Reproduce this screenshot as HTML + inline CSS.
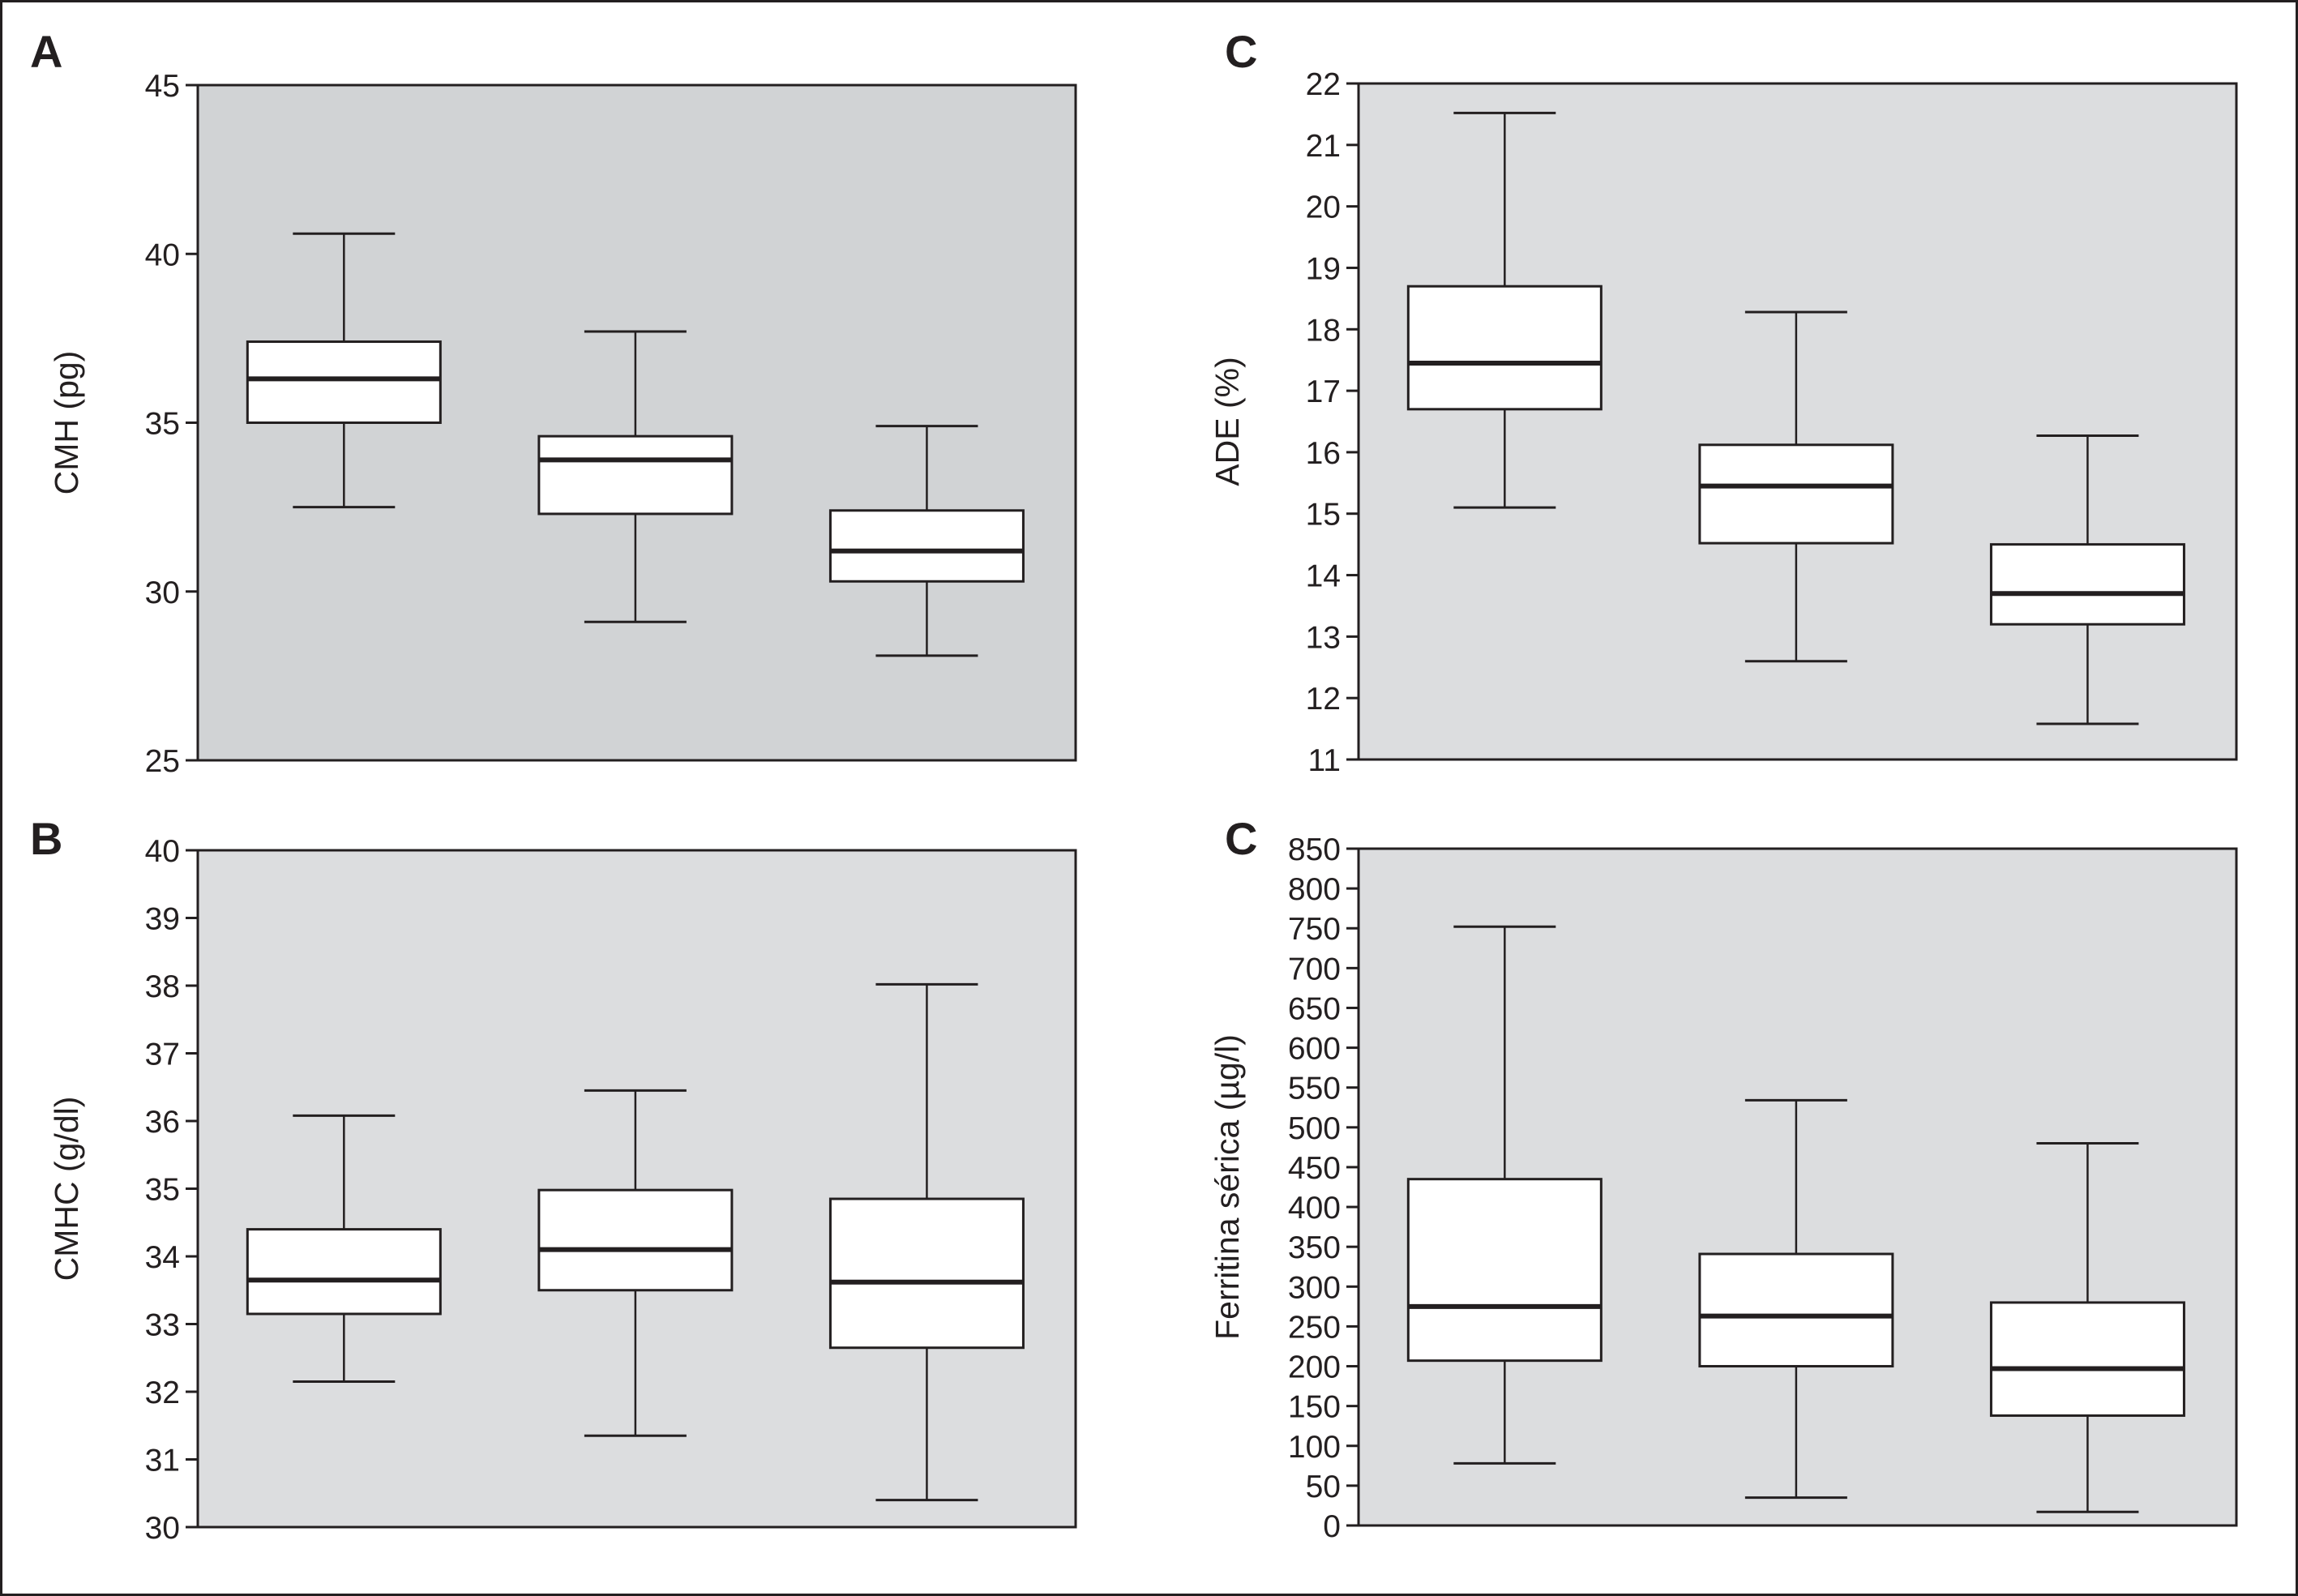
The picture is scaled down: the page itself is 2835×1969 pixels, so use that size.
<!DOCTYPE html>
<html><head><meta charset="utf-8"><style>
html,body{margin:0;padding:0;background:#fff}
svg{display:block}
text{font-family:"Liberation Sans",sans-serif;fill:#231f20}
</style></head><body>
<svg id="fig" width="2835" height="1969" viewBox="0 0 2835 1969">
<rect x="1.5" y="1.5" width="2832" height="1966" fill="#fff" stroke="#231f20" stroke-width="3"/>
</svg>
<script>
const panelALow=[32.5,29.1,28.1], panelAQ1=[35.0,32.3,30.3], panelAMed=[36.3,33.9,31.2], panelAQ3=[37.4,34.6,32.4], panelAHigh=[40.6,37.7,34.9];
const panelATicks=[25,30,35,40,45];
const panelBLow=[32.15,31.35,30.4], panelBQ1=[33.15,33.5,32.65], panelBMed=[33.65,34.1,33.62], panelBQ3=[34.4,34.98,34.85], panelBHigh=[36.08,36.45,38.02];
const panelBTicks=[30,31,32,33,34,35,36,37,38,39,40];
const panelCLow=[15.1,12.6,11.58], panelCQ1=[16.7,14.52,13.2], panelCMed=[17.45,15.45,13.7], panelCQ3=[18.7,16.12,14.5], panelCHigh=[21.52,18.28,16.27];
const panelCTicks=[11,12,13,14,15,16,17,18,19,20,21,22];
const panelDLow=[78,35,17], panelDQ1=[207,200,138], panelDMed=[275,263,197], panelDQ3=[435,341,280], panelDHigh=[752,534,480];
const panelDTicks=[0,50,100,150,200,250,300,350,400,450,500,550,600,650,700,750,800,850];

const NS='http://www.w3.org/2000/svg', svg=document.getElementById('fig');
function mk(tag,attrs,parent){const e=document.createElementNS(NS,tag);for(const k in attrs)e.setAttribute(k,attrs[k]);(parent||svg).appendChild(e);return e;}

function panel(id,x0,y0,x1,y1,bg,ticks,low,q1,med,q3,high,title,letter,lx,ly){
  const g=mk('g',{});
  
  
  const mn=ticks[0],mx=ticks[ticks.length-1];
  const y=v=>y1-(v-mn)/(mx-mn)*(y1-y0);
  const w=x1-x0;
  const xc=i=>x0+w*(0.1665+i*0.3320);
  const bg_=mk('rect',{x:x0,y:y0,width:w,height:y1-y0,fill:bg,stroke:'#231f20','stroke-width':3},g);
  
  
  ticks.forEach(t=>{
    const tk=mk('line',{x1:x0-15,x2:x0,y1:y(t),y2:y(t),stroke:'#231f20','stroke-width':3},g);
    
    
    const tl=mk('text',{x:x0-22,y:y(t)+14,'text-anchor':'end','font-size':39},g);
    tl.textContent=t;
    
    
  });
  const hb=119,hc=63;
  for(let i=0;i<low.length;i++){
    const c=xc(i);
    const bx=mk('g',{},g);
    
    
    mk('line',{x1:c,x2:c,y1:y(high[i]),y2:y(low[i]),stroke:'#231f20','stroke-width':2.5},bx);
    mk('line',{x1:c-hc,x2:c+hc,y1:y(high[i]),y2:y(high[i]),stroke:'#231f20','stroke-width':3},bx);
    mk('line',{x1:c-hc,x2:c+hc,y1:y(low[i]),y2:y(low[i]),stroke:'#231f20','stroke-width':3},bx);
    mk('rect',{x:c-hb,y:y(q3[i]),width:2*hb,height:y(q1[i])-y(q3[i]),fill:'#fff',stroke:'#231f20','stroke-width':3},bx);
    mk('line',{x1:c-hb,x2:c+hb,y1:y(med[i]),y2:y(med[i]),stroke:'#231f20','stroke-width':6},bx);
  }
  const ty=(y0+y1)/2, tx=x0-148;
  const tt=mk('text',{x:tx,y:ty,'text-anchor':'middle','font-size':41,transform:`rotate(-90 ${tx} ${ty})`},g);
  tt.textContent=title;
  
  
  const pl=mk('text',{x:lx,y:ly,'font-size':56,'font-weight':'bold'},g);
  pl.textContent=letter;
  
  
}
panel('a',244,105,1327,938,'#d1d3d5',panelATicks,panelALow,panelAQ1,panelAMed,panelAQ3,panelAHigh,'CMH (pg)','A',37,83);
panel('b',244,1049,1327,1884,'#dcdddf',panelBTicks,panelBLow,panelBQ1,panelBMed,panelBQ3,panelBHigh,'CMHC (g/dl)','B',37,1054);
panel('c',1676,103,2759,937,'#dcdddf',panelCTicks,panelCLow,panelCQ1,panelCMed,panelCQ3,panelCHigh,'ADE (%)','C',1511,83);
panel('d',1676,1047,2759,1882,'#dcdddf',panelDTicks,panelDLow,panelDQ1,panelDMed,panelDQ3,panelDHigh,'Ferritina sérica (µg/l)','C',1511,1054);
</script>
</body></html>
